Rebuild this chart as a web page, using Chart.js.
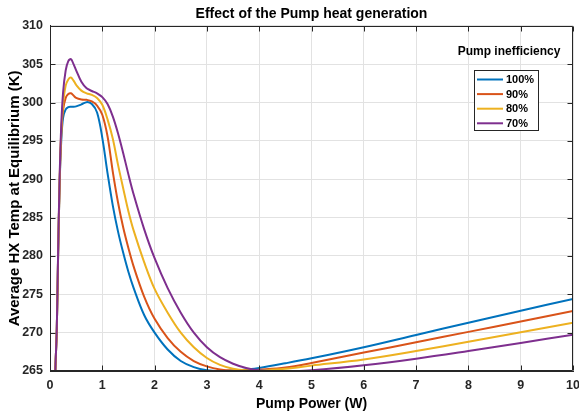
<!DOCTYPE html>
<html>
<head>
<meta charset="utf-8">
<title>Effect of the Pump heat generation</title>
<script src="https://cdn.jsdelivr.net/npm/chart.js@4.4.1/dist/chart.umd.min.js"></script>
<style>
  html, body { margin: 0; padding: 0; background: #ffffff; }
  #wrap { width: 579px; height: 414px; }
</style>
</head>
<body>
<div id="wrap"><canvas id="chart" width="579" height="414"></canvas></div>
<script>
// Pump power (W) sample positions shared by all series
const pumpPower = [0.08, 0.1, 0.13, 0.155, 0.185, 0.215, 0.25, 0.3, 0.35, 0.4,
                   0.45, 0.5, 0.6, 0.7, 0.8, 0.9, 1.0, 1.1, 1.2, 1.3,
                   1.4, 1.5, 1.6, 1.8, 2.0, 2.25, 2.5, 2.75, 3.0, 3.25,
                   3.5, 3.75, 4.0, 4.5, 5, 6, 7, 8, 9, 10];

// Average HX temperature at equilibrium (K) for each pump inefficiency
const temp100 = [256, 264.5, 270.5, 280, 289.5, 295, 298.0, 299.1, 299.4, 299.45,
                 299.45, 299.5, 299.75, 300.05, 299.8, 298.7, 295.4, 290.8, 286.6, 283.2,
                 280.4, 277.9, 275.8, 272.3, 270.0, 267.8, 266.3, 265.5, 265.1, 265.0,
                 265.05, 265.2, 265.4, 266.0, 266.65, 268.1, 269.7, 271.3, 272.85, 274.4];
const temp90  = [256, 264.5, 270.5, 280, 289.7, 295.8, 299.0, 300.6, 301.1, 301.2,
                 300.9, 300.6, 300.4, 300.35, 300.15, 299.6, 298.4, 295.6, 291.0, 287.0,
                 283.7, 281.0, 278.6, 274.7, 271.8, 269.3, 267.5, 266.3, 265.6, 265.2,
                 265.05, 265.05, 265.15, 265.45, 266.05, 267.4, 268.75, 270.1, 271.45, 272.83];
const temp80  = [256, 264.5, 270.5, 280.2, 290, 296.2, 299.8, 302.2, 303.0, 303.25,
                 302.85, 302.3, 301.55, 301.2, 301.0, 300.6, 299.7, 297.8, 295.3, 291.9,
                 288.8, 285.8, 283.3, 279.2, 275.7, 272.6, 270.0, 268.1, 266.7, 265.8,
                 265.3, 265.1, 265.1, 265.3, 265.7, 266.5, 267.6, 268.8, 270.05, 271.3];
const temp70  = [256, 264.5, 270.6, 280.5, 290.5, 297, 301.3, 304.2, 305.4, 305.65,
                 305.0, 304.2, 302.7, 301.85, 301.5, 301.2, 300.7, 299.8, 298.2, 296.0,
                 293.4, 290.6, 288.0, 283.5, 279.7, 275.8, 272.6, 270.0, 268.1, 266.8,
                 265.95, 265.4, 265.1, 264.95, 265.1, 265.75, 266.6, 267.6, 268.65, 269.74];

const seriesLabels = ['100%', '90%', '80%', '70%'];
const seriesColors = ['#0072BD', '#D95319', '#EDB120', '#7E2F8E'];
const xTickValues = [0, 1, 2, 3, 4, 5, 6, 7, 8, 9, 10];
const yTickValues = [265, 270, 275, 280, 285, 290, 295, 300, 305, 310];
const legendTitle = 'Pump inefficiency';

const FONT = '"Liberation Sans", Arial, Helvetica, sans-serif';
const AXIS_COLOR = '#262626';
const GRID_COLOR = '#e2e2e2';

const seriesValues = [temp100, temp90, temp80, temp70];
const datasets = seriesValues.map((vals, i) => ({
  label: seriesLabels[i],
  data: pumpPower.map((x, k) => ({ x: x, y: vals[k] })),
  borderColor: seriesColors[i],
  backgroundColor: seriesColors[i],
  borderWidth: 2,
  pointRadius: 0,
  fill: false,
  tension: 0.35,
  order: seriesValues.length - 1 - i
}));

// Box around the axes with inward tick marks on all four sides
const framePlugin = {
  id: 'frame',
  afterDraw(chart) {
    const { ctx, chartArea: a, scales } = chart;
    const L = Math.round(a.left) + 0.5, R = Math.round(a.right) - 0.5;
    const T = Math.round(a.top) + 0.5, B = Math.round(a.bottom) - 0.5;
    const len = 5;
    ctx.save();
    ctx.strokeStyle = AXIS_COLOR;
    ctx.lineWidth = 1;
    ctx.beginPath();
    ctx.rect(L, T, R - L, B - T);
    xTickValues.forEach(v => {
      const px = Math.round(scales.x.getPixelForValue(v)) + 0.5;
      ctx.moveTo(px, B); ctx.lineTo(px, B - len);
      ctx.moveTo(px, T); ctx.lineTo(px, T + len);
    });
    yTickValues.forEach(v => {
      const py = Math.round(scales.y.getPixelForValue(v)) + 0.5;
      ctx.moveTo(L, py); ctx.lineTo(L + len, py);
      ctx.moveTo(R, py); ctx.lineTo(R - len, py);
    });
    ctx.stroke();
    ctx.restore();
  }
};

// Boxed legend inside the plot with its title above it
const legendPlugin = {
  id: 'boxLegend',
  afterDraw(chart) {
    const { ctx } = chart;
    const boxX = 474.5, boxY = 70.5, boxW = 64, boxH = 60;
    ctx.save();
    ctx.fillStyle = '#000000';
    ctx.font = 'bold 12px ' + FONT;
    ctx.textAlign = 'center';
    ctx.textBaseline = 'middle';
    ctx.fillText(legendTitle, 509, 52);

    ctx.fillStyle = '#ffffff';
    ctx.fillRect(boxX, boxY, boxW, boxH);
    ctx.strokeStyle = AXIS_COLOR;
    ctx.lineWidth = 1;
    ctx.strokeRect(boxX, boxY, boxW, boxH);

    ctx.font = 'bold 11px ' + FONT;
    ctx.textAlign = 'left';
    chart.data.datasets.forEach((ds, i) => {
      const y = 79.5 + i * 14.6;
      ctx.strokeStyle = ds.borderColor;
      ctx.lineWidth = 2;
      ctx.beginPath();
      ctx.moveTo(477, y);
      ctx.lineTo(503, y);
      ctx.stroke();
      ctx.fillStyle = '#000000';
      ctx.fillText(ds.label, 506, y + 0.5);
    });
    ctx.restore();
  }
};

new Chart(document.getElementById('chart'), {
  type: 'line',
  data: { datasets: datasets },
  options: {
    responsive: false,
    animation: false,
    devicePixelRatio: 1,
    layout: { padding: { left: 0, right: 6, top: 0, bottom: 0 } },
    plugins: {
      legend: { display: false },
      tooltip: { enabled: false },
      title: {
        display: true,
        fullSize: false,
        text: 'Effect of the Pump heat generation',
        color: '#000000',
        font: { family: FONT, size: 14, weight: 'bold' },
        padding: { top: 6, bottom: 3 }
      }
    },
    scales: {
      x: {
        type: 'linear',
        min: 0,
        max: 10,
        afterBuildTicks: s => { s.ticks = xTickValues.map(v => ({ value: v })); },
        afterFit: s => { s.height = 43; s.paddingLeft = 0; s.paddingRight = 0; },
        ticks: {
          color: AXIS_COLOR,
          font: { family: FONT, size: 12.5, weight: 'bold' },
          padding: 7,
          maxRotation: 0,
          autoSkip: false
        },
        grid: { color: GRID_COLOR, drawTicks: false },
        border: { display: true, color: AXIS_COLOR, width: 1 },
        title: {
          display: true,
          text: 'Pump Power (W)',
          color: '#000000',
          font: { family: FONT, size: 14, weight: 'bold' },
          padding: { top: 0, bottom: 1 }
        }
      },
      y: {
        type: 'linear',
        min: 265,
        max: 310,
        afterBuildTicks: s => { s.ticks = yTickValues.map(v => ({ value: v })); },
        afterFit: s => { s.width = 50; },
        ticks: {
          color: AXIS_COLOR,
          font: { family: FONT, size: 12.5, weight: 'bold' },
          padding: 7,
          autoSkip: false
        },
        grid: { color: GRID_COLOR, drawTicks: false },
        border: { display: true, color: AXIS_COLOR, width: 1 },
        title: {
          display: true,
          text: 'Average HX Temp at Equilibrium (K)',
          color: '#000000',
          font: { family: FONT, size: 15, weight: 'bold' },
          padding: { top: 6, bottom: 0 }
        }
      }
    }
  },
  plugins: [framePlugin, legendPlugin]
});
</script>
</body>
</html>
